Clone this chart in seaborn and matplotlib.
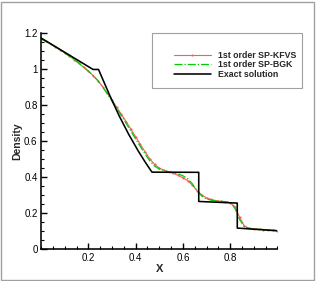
import numpy as np
import pandas as pd
import matplotlib
matplotlib.use("Agg")
import matplotlib.pyplot as plt
from matplotlib.patches import Rectangle
from matplotlib.ticker import MultipleLocator, FixedLocator, FormatStrFormatter
import seaborn as sns

# numerical solutions
x_num = [0.00, 0.02, 0.04, 0.06, 0.08, 0.10, 0.12, 0.14, 0.16, 0.18,
         0.20, 0.22, 0.24, 0.26, 0.28, 0.30, 0.32, 0.34, 0.36, 0.38,
         0.40, 0.42, 0.44, 0.46, 0.48, 0.50, 0.52, 0.54, 0.56, 0.58,
         0.60, 0.62, 0.64, 0.66, 0.68, 0.70, 0.72, 0.74, 0.76, 0.78,
         0.80, 0.82, 0.84, 0.86, 0.88, 0.90, 0.92, 0.94, 0.96, 0.98, 1.00]
rho_kfvs = [1.172, 1.157, 1.142, 1.127, 1.110, 1.092, 1.074, 1.055, 1.034, 1.012,
            0.990, 0.966, 0.938, 0.905, 0.868, 0.830, 0.790, 0.750, 0.710, 0.668,
            0.626, 0.583, 0.542, 0.503, 0.472, 0.452, 0.440, 0.431, 0.422, 0.411,
            0.398, 0.382, 0.357, 0.326, 0.302, 0.286, 0.277, 0.271, 0.267, 0.264,
            0.258, 0.238, 0.178, 0.130, 0.117, 0.114, 0.112, 0.110, 0.108, 0.106, 0.104]
rho_bgk = [1.170, 1.155, 1.141, 1.126, 1.109, 1.092, 1.074, 1.055, 1.035, 1.013,
           0.991, 0.967, 0.938, 0.903, 0.865, 0.825, 0.784, 0.742, 0.700, 0.657,
           0.614, 0.571, 0.530, 0.492, 0.463, 0.446, 0.437, 0.431, 0.426, 0.419,
           0.409, 0.393, 0.364, 0.326, 0.296, 0.280, 0.273, 0.269, 0.267, 0.265,
           0.261, 0.228, 0.165, 0.125, 0.116, 0.114, 0.112, 0.110, 0.108, 0.106, 0.104]

# exact solution
x_exact = [0.0, 0.22, 0.243, 0.29, 0.33, 0.37, 0.41, 0.44, 0.469,
           0.667, 0.667, 0.83, 0.83, 1.0]
rho_exact = [1.175, 1.0, 1.0, 0.857, 0.743, 0.641, 0.549, 0.486, 0.429,
             0.428, 0.266, 0.257, 0.118, 0.103]

labels = ["1st order SP-KFVS", "1st order SP-BGK", "Exact solution"]

sns.set_style("white")
plt.rcParams["font.family"] = ["Liberation Sans", "DejaVu Sans"]

fig = plt.figure(figsize=(3.16, 2.81), dpi=100)
ax = fig.add_axes([0.130, 0.1128, 0.748, 0.768])

sns.lineplot(x=x_num, y=rho_kfvs, ax=ax, color="#f06060", lw=0.8,
             marker=".", markersize=3, markeredgewidth=0,
             estimator=None, sort=False, label=labels[0])
sns.lineplot(x=x_num, y=rho_bgk, ax=ax, color="#00cc00", lw=0.9,
             linestyle="-.", estimator=None, sort=False, label=labels[1])
sns.lineplot(x=x_exact, y=rho_exact, ax=ax, color="black", lw=1.15,
             estimator=None, sort=False, label=labels[2])

ax.set_xlim(0, 1.0)
ax.set_ylim(0, 1.2)
ax.xaxis.set_major_locator(FixedLocator([0.2, 0.4, 0.6, 0.8]))
ax.xaxis.set_minor_locator(MultipleLocator(0.05))
ax.yaxis.set_major_locator(MultipleLocator(0.2))
ax.yaxis.set_minor_locator(MultipleLocator(0.05))
ax.yaxis.set_major_formatter(FormatStrFormatter("%g"))
ax.xaxis.set_major_formatter(FormatStrFormatter("%g"))

for side in ["top", "right"]:
    ax.spines[side].set_visible(False)
for side in ["left", "bottom"]:
    ax.spines[side].set_linewidth(1.15)
    ax.spines[side].set_color("black")

ax.tick_params(which="major", direction="in", length=4, width=1.0,
               labelsize=7, pad=2.5, colors="black",
               bottom=True, left=True)
ax.tick_params(which="minor", direction="in", length=2, width=0.8,
               bottom=True, left=True, colors="black")
ax.set_xlabel("X", fontsize=8, fontweight="bold", labelpad=1)
ax.set_ylabel("Density", fontsize=7.5, fontweight="bold", labelpad=1)

leg = ax.legend(loc="upper left", bbox_to_anchor=(0.537, 0.835),
                bbox_transform=fig.transFigure, frameon=False,
                borderpad=0, handlelength=4.2, handletextpad=0.8,
                labelspacing=0.05, prop={"size": 6.3, "weight": "bold"})

# legend box and outer frame
fig.patches.append(Rectangle((0.481, 0.687), 0.475, 0.196, transform=fig.transFigure,
                             fill=False, edgecolor="#a0a0a0", lw=0.8))
fig.patches.append(Rectangle((0.004, 0.004), 0.991, 0.990, transform=fig.transFigure,
                             fill=False, edgecolor="#a0a0a0", lw=1.0))

fig.savefig("out.png", dpi=100)
